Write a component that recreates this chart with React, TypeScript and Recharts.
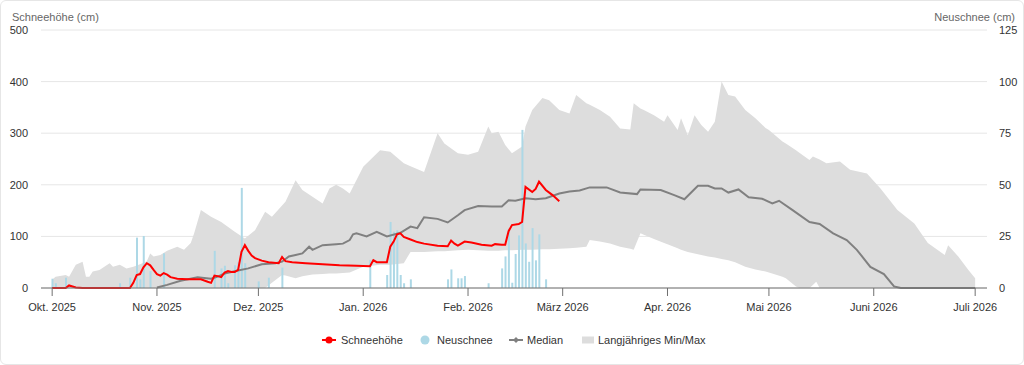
import React from "react";
import { ComposedChart, Area, Bar, Line, XAxis, YAxis, CartesianGrid } from "recharts";

const FONT = '"Liberation Sans", Arial, Helvetica, sans-serif';

// Tag 0 = 1. Okt. 2025
const monthTicks = [0, 31, 61, 92, 123, 151, 182, 212, 243, 273];
const monthLabels = [
  "Okt. 2025", "Nov. 2025", "Dez. 2025", "Jan. 2026", "Feb. 2026",
  "März 2026", "Apr. 2026", "Mai 2026", "Juni 2026", "Juli 2026",
];
const depthTicks = [0, 100, 200, 300, 400, 500];
const newSnowTicks = [0, 25, 50, 75, 100, 125];

// [Tag, cm]
const schneehoehe: [number, number][] = [
  [0, 0], [4, 0], [5, 5], [7, 1], [9, 0], [23, 0], [24, 10], [25, 25], [26, 27],
  [27, 40], [28, 48], [29, 44], [30, 35], [31, 27], [32, 24], [33, 29], [34, 26],
  [35, 21], [37, 18], [40, 17], [44, 17], [46, 12], [47, 10], [48, 24], [49, 23],
  [50, 21], [51, 30], [52, 33], [53, 31], [54, 31], [55, 35], [56, 70], [57, 83],
  [58, 72], [59, 63], [60, 58], [62, 53], [64, 50], [67, 48], [68, 60], [69, 52],
  [71, 50], [75, 48], [80, 46], [85, 44], [90, 43], [94, 42], [95, 54], [96, 50],
  [99, 50], [100, 80], [101, 90], [102, 104], [103, 106], [104, 99], [106, 94],
  [108, 89], [110, 86], [114, 82], [117, 81], [118, 92], [119, 86], [120, 82],
  [122, 90], [124, 88], [127, 84], [130, 82], [131, 85], [133, 84], [134, 84],
  [135, 110], [136, 122], [138, 124], [139, 128], [140, 196], [142, 186],
  [143, 192], [144, 206], [146, 190], [148, 180], [150, 168],
];

// [Tag, cm]
const neuschnee: [number, number][] = [
  [0, 4.5], [1, 2.3], [4, 5], [20, 2.3], [23, 5], [25, 24.4], [26, 4.2], [27, 25.2],
  [29, 8.2], [33, 16.8], [48, 18], [50, 9.5], [51, 10.8], [52, 2.3], [54, 11],
  [55, 12.4], [56, 48.5], [57, 12], [61, 3.2], [64, 5], [68, 9.9], [94, 13.6],
  [99, 6.3], [100, 32], [101, 27.3], [102, 28], [103, 6.3], [104, 2.3], [106, 4.2],
  [117, 4.2], [118, 9], [120, 4.7], [121, 4.7], [122, 5.8], [129, 2.3], [133, 9.5],
  [134, 15.3], [135, 28.7], [136, 2.6], [137, 16.5], [138, 25.5], [139, 76.6],
  [140, 21.6], [141, 12.7], [142, 29], [143, 13.4], [144, 26], [146, 4.2],
];

// [Tag, cm]
const median: [number, number][] = [
  [31, 1], [34, 6], [38, 14], [43, 21], [47, 18], [49, 22], [51, 28], [53, 31],
  [55, 34], [58, 38],
  [62, 46], [66, 48], [68, 51], [70, 61], [72, 64], [74, 67], [76, 80], [77, 74],
  [80, 83], [84, 85], [86, 86], [88, 93], [89, 104], [90, 106], [93, 100], [96, 109],
  [99, 100], [103, 107], [106, 119], [108, 116], [110, 137], [114, 134], [117, 127],
  [120, 141], [122, 151], [126, 159], [130, 158], [133, 158], [135, 170], [137, 169],
  [140, 174], [143, 172], [146, 174], [150, 183], [153, 187], [156, 189], [159, 195],
  [160, 195], [164, 195], [168, 185], [173, 182], [174, 191], [180, 190], [184, 180],
  [187, 172], [191, 198], [194, 198], [196, 193], [198, 193], [200, 185], [203, 191],
  [206, 176], [210, 173], [213, 164], [215, 169], [219, 151], [224, 128], [227, 124],
  [231, 106], [235, 93], [238, 74], [242, 41], [246, 27], [249, 3], [251, 0], [273, 0],
];

// [Tag, min, max]
const minMax: [number, number, number][] = [
  [0, 0, 16], [1, 0, 22], [4, 0, 25], [5, 0, 22], [7, 0, 45], [9, 0, 51], [10, 0, 22],
  [11, 0, 22], [12, 0, 32], [14, 0, 35], [17, 0, 48], [18, 0, 41], [20, 0, 45],
  [22, 0, 38], [24, 0, 41], [26, 0, 46], [28, 0, 52], [29, 0, 67], [30, 0, 61],
  [32, 0, 64], [34, 0, 72], [37, 0, 80], [39, 0, 74], [41, 0, 87], [42, 0, 106],
  [44, 0, 151], [47, 0, 138], [50, 0, 128], [54, 0, 109], [57, 0, 96], [60, 0, 112],
  [63, 0, 148], [65, 10, 138], [68, 25, 160], [69, 24, 167], [72, 19, 209],
  [74, 23, 190], [77, 26, 177], [80, 27, 164], [82, 28, 193], [84, 28, 200],
  [86, 29, 193], [88, 30, 183], [92, 41, 235], [97, 45, 267], [100, 45, 264],
  [104, 48, 242], [106, 70, 236], [110, 70, 225], [114, 71, 300], [116, 71, 280],
  [120, 73, 261], [123, 74, 258], [126, 73, 264], [129, 72, 313], [130, 72, 300],
  [132, 72, 303], [134, 73, 277], [136, 73, 261], [139, 74, 274], [140, 74, 313],
  [142, 74, 345], [145, 75, 368], [147, 75, 364], [150, 76, 345], [153, 77, 338],
  [155, 78, 374], [158, 80, 358], [159, 93, 355], [162, 90, 345], [165, 86, 332],
  [168, 80, 309], [171, 76, 307], [172, 74, 358], [174, 106, 348], [175, 103, 345],
  [178, 95, 335], [181, 87, 322], [182, 85, 335], [185, 77, 306], [186, 74, 329],
  [188, 70, 296], [190, 67, 335], [192, 64, 316], [194, 61, 303], [196, 59, 322],
  [198, 56, 400], [200, 54, 374], [202, 50, 371], [205, 41, 345], [208, 36, 329],
  [211, 32, 310], [212, 30, 306], [216, 22, 284], [217, 19, 280], [220, 3, 267],
  [221, 0, 262], [224, 0, 248], [225, 6, 255], [226, 12, 252], [227, 0, 249],
  [229, 0, 242], [233, 0, 245], [236, 0, 229], [241, 0, 222], [245, 0, 193],
  [250, 0, 151], [255, 0, 125], [259, 0, 87], [264, 0, 64], [265, 0, 83],
  [268, 0, 61], [271, 0, 35], [273, 0, 19],
];

type Row = {
  day: number;
  depth?: number;
  newSnow?: number;
  median?: number;
  band?: [number, number];
};

function buildRows(): Row[] {
  const map = new Map<number, Row>();
  const row = (d: number) => {
    let r = map.get(d);
    if (!r) {
      r = { day: d };
      map.set(d, r);
    }
    return r;
  };
  schneehoehe.forEach(([d, v]) => (row(d).depth = v));
  neuschnee.forEach(([d, v]) => (row(d).newSnow = v));
  median.forEach(([d, v]) => (row(d).median = v));
  minMax.forEach(([d, lo, hi]) => (row(d).band = [lo, hi]));
  return [...map.values()].sort((a, b) => a.day - b.day);
}

const rows = buildRows();

const tickStyle = { fontSize: 11, fill: "#333333", fontFamily: FONT };
const legendText: React.CSSProperties = {
  position: "absolute",
  top: 333,
  fontSize: 11,
  lineHeight: "14px",
  color: "#333333",
  whiteSpace: "nowrap",
};

export default function App() {
  return (
    <div
      style={{
        position: "absolute",
        left: 0,
        top: 0,
        width: 1024,
        height: 365,
        background: "#ffffff",
        fontFamily: FONT,
      }}
    >
      <div
        style={{
          position: "absolute",
          inset: 0,
          border: "1px solid #e6e6e6",
          borderRadius: 6,
          pointerEvents: "none",
        }}
      />
      <div style={{ position: "absolute", left: 12, top: 12, fontSize: 11, lineHeight: "11px", color: "#666666" }}>
        Schneehöhe (cm)
      </div>
      <div
        style={{
          position: "absolute",
          right: 9,
          top: 12,
          fontSize: 11,
          lineHeight: "11px",
          color: "#666666",
          textAlign: "right",
        }}
      >
        Neuschnee (cm)
      </div>

      <div style={{ position: "absolute", left: 0, top: 0 }}>
        <ComposedChart
          width={1024}
          height={365}
          data={rows}
          margin={{ top: 30, right: 0, bottom: 0, left: 0 }}
        >
          <CartesianGrid yAxisId="left" vertical={false} stroke="#e6e6e6" />
          <XAxis
            dataKey="day"
            type="number"
            domain={[-3.3, 276.5]}
            allowDataOverflow
            ticks={monthTicks}
            interval={0}
            tickFormatter={(v: number) => monthLabels[monthTicks.indexOf(v)] ?? ""}
            height={77}
            tickSize={8}
            tickMargin={7}
            stroke="#707070"
            axisLine={{ stroke: "#707070" }}
            tickLine={{ stroke: "#707070" }}
            tick={tickStyle}
          />
          <YAxis
            yAxisId="left"
            orientation="left"
            width={41}
            domain={[0, 500]}
            ticks={depthTicks}
            interval={0}
            stroke="#333333"
            axisLine={false}
            tickLine={false}
            tickSize={0}
            tickMargin={13}
            tick={tickStyle}
          />
          <YAxis
            yAxisId="right"
            orientation="right"
            width={37}
            domain={[0, 125]}
            ticks={newSnowTicks}
            interval={0}
            stroke="#333333"
            axisLine={false}
            tickLine={false}
            tickSize={0}
            tickMargin={12}
            tick={tickStyle}
          />
          <Area
            yAxisId="left"
            dataKey="band"
            type="linear"
            fill="#dddddd"
            fillOpacity={1}
            stroke="none"
            connectNulls
            isAnimationActive={false}
          />
          <Bar
            yAxisId="right"
            dataKey="newSnow"
            fill="#add8e6"
            barSize={2}
            isAnimationActive={false}
          />
          <Line
            yAxisId="left"
            dataKey="median"
            type="linear"
            stroke="#808080"
            strokeWidth={2}
            dot={false}
            activeDot={false}
            connectNulls
            isAnimationActive={false}
          />
          <Line
            yAxisId="left"
            dataKey="depth"
            type="linear"
            stroke="#ff0000"
            strokeWidth={2}
            dot={false}
            activeDot={false}
            connectNulls
            isAnimationActive={false}
          />
        </ComposedChart>
      </div>

      {/* Legende */}
      <svg style={{ position: "absolute", left: 321, top: 333 }} width={16} height={14}>
        <line x1={1} y1={7} x2={15} y2={7} stroke="#ff0000" strokeWidth={2} />
        <circle cx={8} cy={7} r={3.5} fill="#ff0000" />
      </svg>
      <span style={{ ...legendText, left: 341 }}>Schneehöhe</span>

      <svg style={{ position: "absolute", left: 419, top: 333 }} width={12} height={14}>
        <circle cx={6} cy={7} r={4.5} fill="#add8e6" />
      </svg>
      <span style={{ ...legendText, left: 437 }}>Neuschnee</span>

      <svg style={{ position: "absolute", left: 508, top: 333 }} width={16} height={14}>
        <line x1={1} y1={7} x2={15} y2={7} stroke="#808080" strokeWidth={2} />
        <path d="M8 4 L11 7 L8 10 L5 7 Z" fill="#808080" />
      </svg>
      <span style={{ ...legendText, left: 527 }}>Median</span>

      <svg style={{ position: "absolute", left: 581, top: 333 }} width={14} height={14}>
        <rect x={1} y={3.5} width={12} height={7} fill="#dddddd" />
      </svg>
      <span style={{ ...legendText, left: 598 }}>Langjähriges Min/Max</span>
    </div>
  );
}
